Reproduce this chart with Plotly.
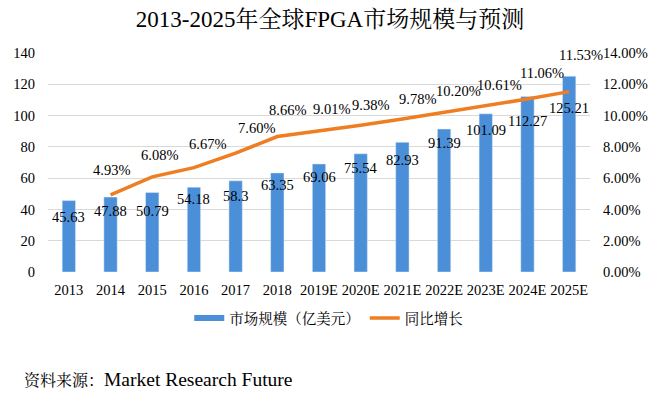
import plotly.graph_objects as go

years = ["2013", "2014", "2015", "2016", "2017", "2018", "2019E", "2020E",
         "2021E", "2022E", "2023E", "2024E", "2025E"]
market_size = [45.63, 47.88, 50.79, 54.18, 58.3, 63.35, 69.06, 75.54,
               82.93, 91.39, 101.09, 112.27, 125.21]
growth_pct = [None, 4.93, 6.08, 6.67, 7.60, 8.66, 9.01, 9.38,
              9.78, 10.20, 10.61, 11.06, 11.53]
left_ticks = [0, 20, 40, 60, 80, 100, 120, 140]
right_ticks = [0, 2, 4, 6, 8, 10, 12, 14]

# label placement (pixel offsets, style only)
bar_label_drop = [16, 14, 18, 12, 15, 12, 13, 14, 18, 14, 16, 25, 32]
pct_label_dx = [0, 1, 7, 14, 21, 10, 12, 10, 15, 14, 14, 15, 12]
pct_label_dy = [0, 25, 22, 24, 25, 27, 22, 20, 20, 21, 21, 26, 37]

FONT = "Liberation Serif, 'Times New Roman', 'Noto Serif CJK SC', 'Noto Sans CJK SC', serif"
BLUE = "#4a8fd8"
ORANGE = "#ef7d22"

fig = go.Figure()
fig.add_trace(go.Bar(x=years, y=market_size, marker_color=BLUE, showlegend=False,
                     name="市场规模（亿美元）", hoverinfo="x+y"))
# legend proxy for bars (wide Excel-style swatch)
fig.add_trace(go.Scatter(x=[years[0]], y=[None], mode="lines", name="市场规模（亿美元）",
                         line=dict(color=BLUE, width=6), hoverinfo="skip"))
fig.add_trace(go.Scatter(x=years, y=growth_pct, mode="lines", name="同比增长",
                         line=dict(color=ORANGE, width=3.5), yaxis="y2"))

annotations = []
for i, v in enumerate(market_size):
    annotations.append(dict(x=i, y=v, xref="x", yref="y", text=f"{v:g}",
                            showarrow=False, yanchor="middle", xanchor="center",
                            yshift=-bar_label_drop[i], font=dict(size=14.5, color="#000")))
for i, g in enumerate(growth_pct):
    if g is None:
        continue
    annotations.append(dict(x=i, y=g, xref="x", yref="y2", text=f"{g:.2f}%",
                            showarrow=False, yanchor="middle", xanchor="center",
                            xshift=pct_label_dx[i], yshift=pct_label_dy[i],
                            font=dict(size=14.5, color="#000")))
annotations.append(dict(x=-0.048, y=-0.493, xref="paper", yref="paper",
                        text="资料来源：<span style='font-size:19.5px'>Market Research Future</span>",
                        showarrow=False, xanchor="left", yanchor="middle",
                        font=dict(size=16, color="#000")))

fig.update_layout(
    width=668, height=394,
    margin=dict(l=48, r=78, t=53, b=122),
    paper_bgcolor="white", plot_bgcolor="white",
    font=dict(family=FONT, size=14.5, color="#000"),
    title=dict(text="2013-2025年全球FPGA市场规模与预测", x=0.494, xref="container",
               xanchor="center", y=0.952, yref="container", yanchor="middle",
               font=dict(size=23, color="#000")),
    bargap=0.68,
    xaxis=dict(type="category", categoryorder="array", categoryarray=years,
               range=[-0.5, len(years) - 0.5],
               showgrid=False, zeroline=False, showline=False,
               ticks="", ticklabelstandoff=7, tickfont=dict(size=14.5)),
    yaxis=dict(range=[0, 140], tickvals=left_ticks, ticktext=[str(t) for t in left_ticks],
               showgrid=True, gridcolor="#d9d9d9", gridwidth=1, zeroline=False,
               showline=False, ticks="", ticklabelstandoff=12),
    yaxis2=dict(range=[0, 14], tickvals=right_ticks,
                ticktext=[f"{t:.2f}%" for t in right_ticks], overlaying="y",
                side="right", showgrid=False, zeroline=False, showline=False,
                ticks="", ticklabelstandoff=12),
    legend=dict(orientation="h", x=0.518, xanchor="center", y=-0.21, yanchor="middle",
                font=dict(size=14.5), itemwidth=30, bgcolor="rgba(0,0,0,0)"),
    annotations=annotations,
)

fig.write_html("out.html", config={"displayModeBar": False},
               post_script="document.body.style.margin='0';")
